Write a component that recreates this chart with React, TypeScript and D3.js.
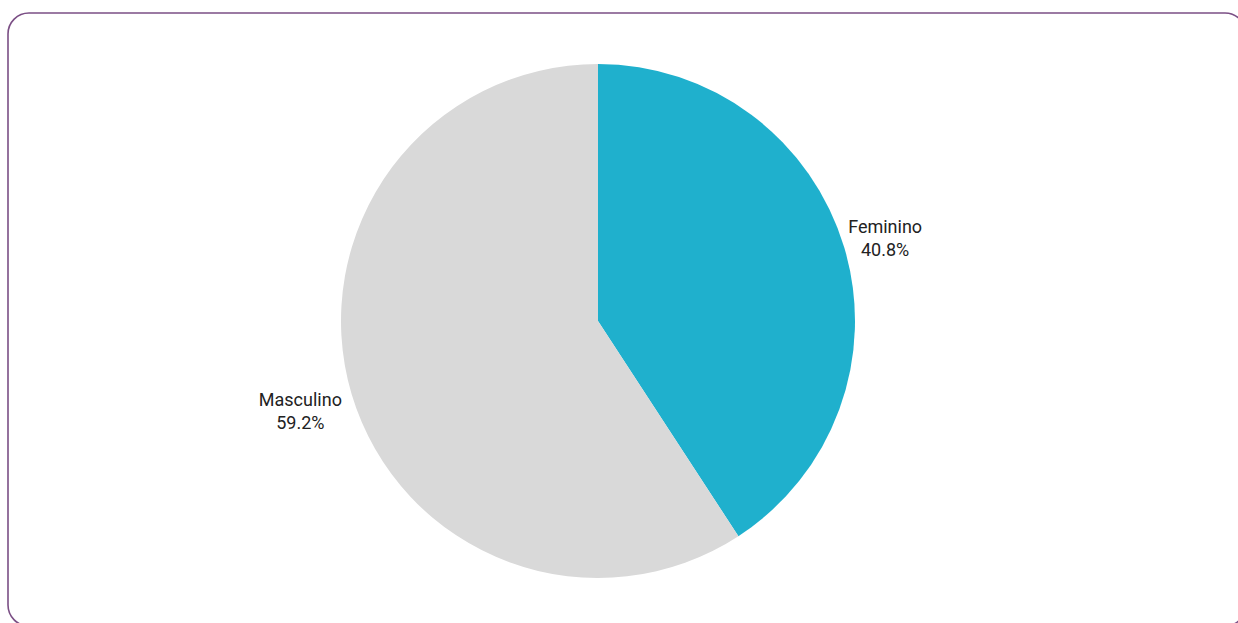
import React from "react";
import * as d3 from "d3";

const categories = ["Feminino", "Masculino"];
const values = [40.8, 59.2];
const colors = ["#1fb0cd", "#d9d9d9"];

const W = 1238;
const H = 623;

export default function App() {
  const cx = 598;
  const cy = 321;
  const r = 257;
  const data = categories.map((c, i) => ({ label: c, value: values[i], color: colors[i] }));
  const pie = d3.pie<any>().value((d) => d.value).sort(null);
  const arcs = pie(data);
  const arcGen = d3.arc<any>().innerRadius(0).outerRadius(r);
  const labelR = 262;

  return (
    <svg
      width={W}
      height={H}
      style={{ position: "absolute", left: 0, top: 0, background: "#fff" }}
    >
      <rect x={8} y={13} width={1238} height={613} rx={21} ry={21} fill="#fff" stroke="#7b4f85" strokeWidth={1.6} />
      <g transform={`translate(${cx},${cy})`}>
        {arcs.map((a, i) => (
          <path key={i} d={arcGen(a) as string} fill={a.data.color} stroke="none" />
        ))}
      </g>
      {arcs.map((a, i) => {
        const mid = (a.startAngle + a.endAngle) / 2;
        const px = cx + Math.sin(mid) * labelR;
        const py = cy - Math.cos(mid) * labelR;
        const right = Math.sin(mid) >= 0;
        const centerX = right ? px + 36 : px - 46.5;
        const base = right ? py - 13 : py + 10;
        return (
          <text
            key={i}
            textAnchor="middle"
            fontFamily="Roboto, 'Noto Sans', sans-serif"
            fontSize={18}
            fill="#222"
          >
            <tspan x={centerX} y={base}>{a.data.label}</tspan>
            <tspan x={centerX} y={base + 23}>{`${a.data.value.toFixed(1)}%`}</tspan>
          </text>
        );
      })}
    </svg>
  );
}
